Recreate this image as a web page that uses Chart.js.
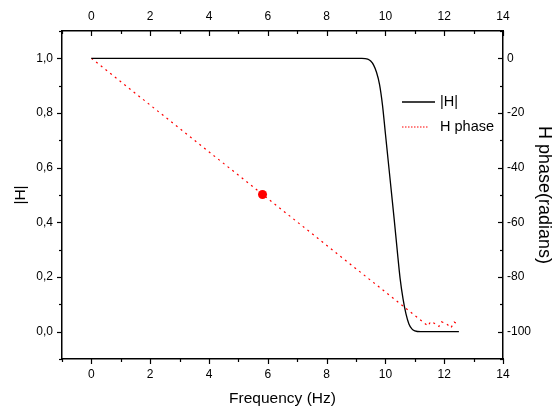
<!DOCTYPE html>
<html>
<head>
<meta charset="utf-8">
<script src="https://cdn.jsdelivr.net/npm/chart.js@4.4.1/dist/chart.umd.min.js"></script>
<style>
html, body { margin: 0; padding: 0; background: #fff; }
</style>
</head>
<body>
<canvas id="chart_filterResponse" width="552" height="409"></canvas>
<script>
// |H| magnitude response
var freqMag = [0, 9.2, 9.4, 9.5, 9.6, 9.7, 9.8, 9.9, 10.0, 10.1, 10.2, 10.3, 10.4, 10.5, 10.6, 10.7, 10.8, 10.9, 11.0, 11.2, 12.5];
var magH = [1, 1, 0.997, 0.99, 0.975, 0.948, 0.905, 0.83, 0.725, 0.62, 0.515, 0.41, 0.30, 0.195, 0.12, 0.065, 0.028, 0.01, 0.003, 0, 0];

// phase (radians)
var freqPhase = [0, 11.45, 11.54, 11.66, 11.82, 11.91, 12.08, 12.23, 12.34, 12.48];
var phaseH = [0, -97.9, -96.3, -96.9, -98.1, -96.4, -97.1, -98.6, -96.5, -97.3];

// highlighted point
var markerFreq = [5.82];
var markerPhase = [-49.8];

var FONT = "'Liberation Sans', Arial, sans-serif";

function toPoints(xs, ys) {
    return xs.map(function (x, i) { return { x: x, y: ys[i] }; });
}

var whiteBackground = {
    id: 'whiteBackground',
    beforeDraw: (chart) => {
        const ctx = chart.ctx;
        ctx.save();
        ctx.fillStyle = 'white';
        ctx.fillRect(0, 0, chart.width, chart.height);
        ctx.restore();
    }
};

// major + minor tick marks (top/right point inward, left/bottom outward)
var tickMarks = {
    id: 'tickMarks',
    afterDraw: (chart) => {
        const ctx = chart.ctx;
        ctx.save();
        ctx.strokeStyle = '#000';
        ctx.lineWidth = 1.2;
        ['x', 'x2', 'y', 'y2'].forEach(id => {
            const scale = chart.scales[id];
            const pos = scale.options.position;
            scale.ticks.forEach(t => {
                const len = t.label !== '' ? 5 : 3;
                const p = Math.round(scale.getPixelForValue(t.value)) + 0.5;
                ctx.beginPath();
                if (scale.isHorizontal()) {
                    const y0 = pos === 'top' ? scale.bottom : scale.top;
                    ctx.moveTo(p, y0);
                    ctx.lineTo(p, y0 + len);
                } else {
                    const x0 = pos === 'left' ? scale.right : scale.left;
                    ctx.moveTo(x0, p);
                    ctx.lineTo(x0 - len, p);
                }
                ctx.stroke();
            });
        });
        ctx.restore();
    }
};

// legend inside plot, upper right
var legendBox = {
    id: 'legendBox',
    afterDraw: (chart) => {
        const ctx = chart.ctx;
        const a = chart.chartArea;
        const items = chart.data.datasets.filter(d => d.label);
        ctx.save();
        ctx.font = '14.5px ' + FONT;
        ctx.textBaseline = 'middle';
        ctx.fillStyle = '#000';
        items.forEach((d, i) => {
            const y = a.top + 71 + i * 25;
            ctx.beginPath();
            ctx.strokeStyle = d.borderColor;
            ctx.lineWidth = d.borderWidth;
            ctx.setLineDash(d.borderDash ? [1.5, 1.5] : []);
            ctx.moveTo(a.right - 101, y);
            ctx.lineTo(a.right - (d.borderDash ? 74 : 68), y);
            ctx.stroke();
            ctx.setLineDash([]);
            ctx.fillText(d.label, a.right - 63, y);
        });
        ctx.restore();
    }
};

function axisCommon(extra) {
    var base = {
        type: 'linear',
        grid: { display: true, drawOnChartArea: false, drawTicks: false, color: 'rgba(0,0,0,0)' },
        border: { display: true, color: '#000', width: 1.5 }
    };
    return Object.assign(base, extra);
}

var chart_filterResponse = new Chart(document.getElementById('chart_filterResponse'), {
    type: 'line',
    data: {
        datasets: [
            {
                label: '|H|',
                data: toPoints(freqMag, magH),
                borderColor: '#000000',
                borderWidth: 1.3,
                pointRadius: 0,
                cubicInterpolationMode: 'monotone',
                xAxisID: 'x',
                yAxisID: 'y'
            },
            {
                label: 'H phase',
                data: toPoints(freqPhase, phaseH),
                borderColor: '#ff0000',
                borderWidth: 1.2,
                borderDash: [2, 4],
                pointRadius: 0,
                tension: 0,
                xAxisID: 'x',
                yAxisID: 'y2'
            },
            {
                data: toPoints(markerFreq, markerPhase),
                showLine: false,
                pointRadius: 4.5,
                pointBackgroundColor: '#ff0000',
                pointBorderWidth: 0,
                xAxisID: 'x',
                yAxisID: 'y2'
            }
        ]
    },
    options: {
        animation: false,
        responsive: false,
        layout: { padding: 0 },
        plugins: {
            legend: { display: false },
            tooltip: { enabled: false }
        },
        scales: {
            x: axisCommon({
                position: 'bottom',
                min: -1,
                max: 14,
                ticks: {
                    stepSize: 1,
                    autoSkip: false,
                    maxRotation: 0,
                    padding: 8,
                    color: '#000',
                    font: { family: FONT, size: 12 },
                    callback: v => (v % 2 === 0 ? String(v) : '')
                },
                title: {
                    display: true,
                    text: 'Frequency (Hz)',
                    color: '#000',
                    font: { family: FONT, size: 15.5 },
                    padding: { top: 0, bottom: 1 }
                },
                afterFit: s => { s.height = 50; }
            }),
            x2: axisCommon({
                position: 'top',
                min: -1,
                max: 14,
                ticks: {
                    stepSize: 1,
                    autoSkip: false,
                    maxRotation: 0,
                    padding: 7,
                    color: '#000',
                    font: { family: FONT, size: 12 },
                    callback: v => (v % 2 === 0 ? String(v) : '')
                },
                afterFit: s => { s.height = 31; }
            }),
            y: axisCommon({
                position: 'left',
                min: -0.1,
                max: 1.1,
                ticks: {
                    stepSize: 0.1,
                    autoSkip: false,
                    padding: 9,
                    color: '#000',
                    font: { family: FONT, size: 12 },
                    callback: v => {
                        const k = Math.round(v * 10);
                        return k % 2 === 0 ? (k / 10).toFixed(1).replace('.', ',') : '';
                    }
                },
                title: {
                    display: true,
                    text: '|H|',
                    color: '#000',
                    font: { family: FONT, size: 15.5 },
                    padding: { top: 11, bottom: 0 }
                },
                afterFit: s => { s.width = 62; }
            }),
            y2: axisCommon({
                position: 'right',
                min: -110,
                max: 10,
                ticks: {
                    stepSize: 10,
                    autoSkip: false,
                    padding: 4,
                    color: '#000',
                    font: { family: FONT, size: 12 },
                    callback: v => (v % 20 === 0 ? String(v) : '')
                },
                title: {
                    display: true,
                    text: 'H phase(radians)',
                    color: '#000',
                    font: { family: FONT, size: 18, lineHeight: 1 },
                    padding: { top: -1, bottom: 0 }
                },
                afterFit: s => { s.width = 49; }
            })
        }
    },
    plugins: [whiteBackground, tickMarks, legendBox]
});
</script>
</body>
</html>
